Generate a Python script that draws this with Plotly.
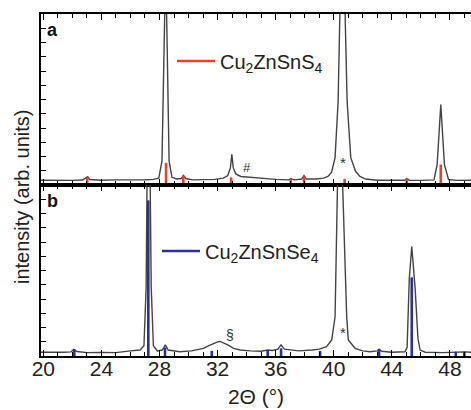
import plotly.graph_objects as go
from plotly.subplots import make_subplots

# ---- data (2theta in degrees, intensity in panel fraction) ----
czts_x = [19.84, 20.5, 21.2, 22.0, 22.7, 22.95, 23.05, 23.2, 24.0, 25.0, 26.0, 27.0, 27.6,
          27.95, 28.17, 28.36, 28.43, 28.49, 28.66, 28.86, 29.2, 29.5, 29.65, 29.8, 30.3,
          31.0, 31.8, 32.4, 32.7, 32.88, 32.98, 33.08, 33.25, 33.6, 34.2, 35.0, 36.0, 36.9,
          37.05, 37.3, 37.8, 37.95, 38.1, 38.8, 39.3, 39.6, 39.85, 40.09, 40.3, 40.42, 40.6,
          40.78, 40.92, 41.17, 41.5, 41.8, 42.2, 43.0, 44.0, 44.9, 45.03, 45.2, 46.0, 46.9,
          47.12, 47.37, 47.62, 47.9, 48.5, 49.45]
czts_y = [0.028, 0.027, 0.029, 0.027, 0.029, 0.040, 0.048, 0.032, 0.028, 0.030, 0.029, 0.031, 0.033,
          0.040, 0.14, 1.0, 1.6, 1.0, 0.14, 0.045, 0.035, 0.038, 0.056, 0.038, 0.030,
          0.030, 0.033, 0.040, 0.055, 0.10, 0.18, 0.10, 0.065, 0.050, 0.045, 0.037, 0.033, 0.030,
          0.036, 0.030, 0.035, 0.055, 0.035, 0.035, 0.040, 0.050, 0.075, 0.16, 0.49, 1.0, 1.6,
          1.0, 0.49, 0.16, 0.08, 0.05, 0.035, 0.028, 0.027, 0.028, 0.038, 0.028, 0.027, 0.030,
          0.12, 0.47, 0.12, 0.032, 0.027, 0.028]

cztse_x = [19.84, 20.6, 21.4, 21.9, 22.1, 22.3, 23.0, 24.0, 25.0, 26.0, 26.66, 26.93, 27.08,
           27.14, 27.25, 27.36, 27.43, 27.58, 27.85, 28.2, 28.4, 28.6, 29.4, 30.2, 30.6, 31.02,
           31.4, 31.71, 32.0, 32.17, 32.4, 32.74, 33.1, 33.55, 34.23, 35.0, 35.45, 35.8, 36.15,
           36.37, 36.6, 37.0, 37.6, 38.5, 39.0, 39.5, 39.86, 40.09, 40.25, 40.43, 40.62, 40.89,
           41.0, 41.47, 42.0, 42.5, 43.0, 43.12, 43.3, 44.0, 44.9, 45.05, 45.2, 45.37, 45.6,
           45.8, 45.95, 46.3, 47.5, 48.4, 49.0, 49.45]
cztse_y = [0.022, 0.020, 0.022, 0.024, 0.038, 0.026, 0.020, 0.021, 0.020, 0.030, 0.035, 0.060, 0.40,
           1.0, 1.5, 1.0, 0.40, 0.060, 0.030, 0.035, 0.065, 0.035, 0.025, 0.030, 0.036, 0.045,
           0.060, 0.074, 0.083, 0.085, 0.078, 0.064, 0.045, 0.035, 0.030, 0.028, 0.035, 0.032, 0.040,
           0.065, 0.040, 0.035, 0.030, 0.035, 0.040, 0.054, 0.094, 0.23, 0.97, 1.5, 0.97, 0.23,
           0.094, 0.045, 0.030, 0.025, 0.030, 0.040, 0.028, 0.022, 0.025, 0.050, 0.45, 0.64, 0.40,
           0.10, 0.035, 0.022, 0.020, 0.024, 0.024, 0.022]

# reference reflections
czts_ref_pos = [23.02, 28.45, 29.64, 32.93, 37.04, 37.95, 40.75, 45.03, 47.37]
czts_ref_int = [0.045, 0.13, 0.055, 0.045, 0.04, 0.05, 0.035, 0.04, 0.12]
cztse_ref_pos = [22.13, 27.23, 28.38, 31.6, 35.45, 36.37, 39.06, 43.12, 45.37, 48.4, 48.99]
cztse_ref_int = [0.04, 0.91, 0.05, 0.03, 0.035, 0.045, 0.03, 0.04, 0.46, 0.025, 0.025]

czts_label = "Cu<sub>2</sub>ZnSnS<sub>4</sub>"
cztse_label = "Cu<sub>2</sub>ZnSnSe<sub>4</sub>"
x_ticks = [20, 24, 28, 32, 36, 40, 44, 48]

FONT = "Arial, Liberation Sans, Helvetica, sans-serif"
LINE = "#444444"
RED = "#e5432b"
BLUE = "#2e3192"


def sticks(pos, inten):
    xs, ys = [], []
    for p, h in zip(pos, inten):
        xs += [p, p, None]
        ys += [0, h, None]
    return xs, ys


fig = make_subplots(rows=2, cols=1, shared_xaxes=True, vertical_spacing=0)

fig.add_trace(go.Scatter(x=czts_x, y=czts_y, mode="lines", line=dict(color=LINE, width=1.4),
                         showlegend=False), row=1, col=1)
sx, sy = sticks(czts_ref_pos, czts_ref_int)
fig.add_trace(go.Scatter(x=sx, y=sy, mode="lines", line=dict(color=RED, width=2.6),
                         name=czts_label, legend="legend"), row=1, col=1)

fig.add_trace(go.Scatter(x=cztse_x, y=cztse_y, mode="lines", line=dict(color=LINE, width=1.4),
                         showlegend=False), row=2, col=1)
bx, by = sticks(cztse_ref_pos, cztse_ref_int)
fig.add_trace(go.Scatter(x=bx, y=by, mode="lines", line=dict(color=BLUE, width=2.6),
                         name=cztse_label, legend="legend2"), row=2, col=1)

xcommon = dict(range=[19.84, 49.45], showline=True, linecolor="black", linewidth=1.6,
               mirror="ticks", ticks="inside", ticklen=6, tickwidth=1.4, tickcolor="black",
               tickvals=x_ticks, showgrid=False, zeroline=False, automargin=False,
               minor=dict(dtick=1, tick0=20, ticks="inside", ticklen=4, tickwidth=1.2,
                          tickcolor="black", showgrid=False))
fig.update_xaxes(**xcommon)
fig.update_xaxes(showticklabels=False, row=1, col=1)
fig.update_xaxes(showticklabels=True, tickfont=dict(family=FONT, size=21, color="#222"),
                 ticktext=[str(v) for v in x_ticks], ticklabelstandoff=-7,
                 title=dict(text="2Θ (°)", font=dict(family=FONT, size=21, color="#222"), standoff=10),
                 row=2, col=1)

ycommon = dict(range=[0, 1], showline=True, linecolor="black", linewidth=1.6, mirror=False,
               ticks="inside", ticklen=5, tickwidth=1.2, tickcolor="black", tick0=0, dtick=1 / 12,
               showticklabels=False, showgrid=False, zeroline=False, automargin=False)
fig.update_yaxes(**ycommon)

fig.update_layout(
    width=471, height=410,
    margin=dict(l=41, r=0, t=14, b=54),
    paper_bgcolor="white", plot_bgcolor="white",
    font=dict(family=FONT, color="#222"),
    legend=dict(x=(172 - 41) / 430, y=(356 - 61) / 342, xanchor="left", yanchor="middle",
                bgcolor="rgba(0,0,0,0)", font=dict(family=FONT, size=20, color="#222"),
                itemwidth=38, borderwidth=0, tracegroupgap=0),
    legend2=dict(x=(157 - 41) / 430, y=(356 - 251) / 342, xanchor="left", yanchor="middle",
                 bgcolor="rgba(0,0,0,0)", font=dict(family=FONT, size=20, color="#222"),
                 itemwidth=38, borderwidth=0, tracegroupgap=0),
    annotations=[
        dict(text="<b>a</b>", x=0.01, y=0.975, xref="x domain", yref="y domain",
             xanchor="left", yanchor="top", showarrow=False,
             font=dict(family=FONT, size=18, color="#111")),
        dict(text="<b>b</b>", x=0.01, y=0.975, xref="x2 domain", yref="y2 domain",
             xanchor="left", yanchor="top", showarrow=False,
             font=dict(family=FONT, size=18, color="#111")),
        dict(text="#", x=34.05, y=0.10, xref="x", yref="y", showarrow=False,
             font=dict(family=FONT, size=13, color="#333")),
        dict(text="*", x=40.65, y=0.13, xref="x", yref="y", showarrow=False,
             font=dict(family=FONT, size=15, color="#333")),
        dict(text="§", x=32.87, y=0.125, xref="x2", yref="y2", showarrow=False,
             font=dict(family=FONT, size=14, color="#333")),
        dict(text="*", x=40.65, y=0.14, xref="x2", yref="y2", showarrow=False,
             font=dict(family=FONT, size=15, color="#333")),
        dict(text="intensity (arb. units)", x=(22 - 41) / 430, y=(356 - 197) / 342,
             xref="paper", yref="paper", textangle=-90, showarrow=False,
             xanchor="center", yanchor="middle",
             font=dict(family=FONT, size=20, color="#222")),
    ],
)

fig.write_html("out.html", config={"displayModeBar": False},
               post_script="document.body.style.margin='0px';")
